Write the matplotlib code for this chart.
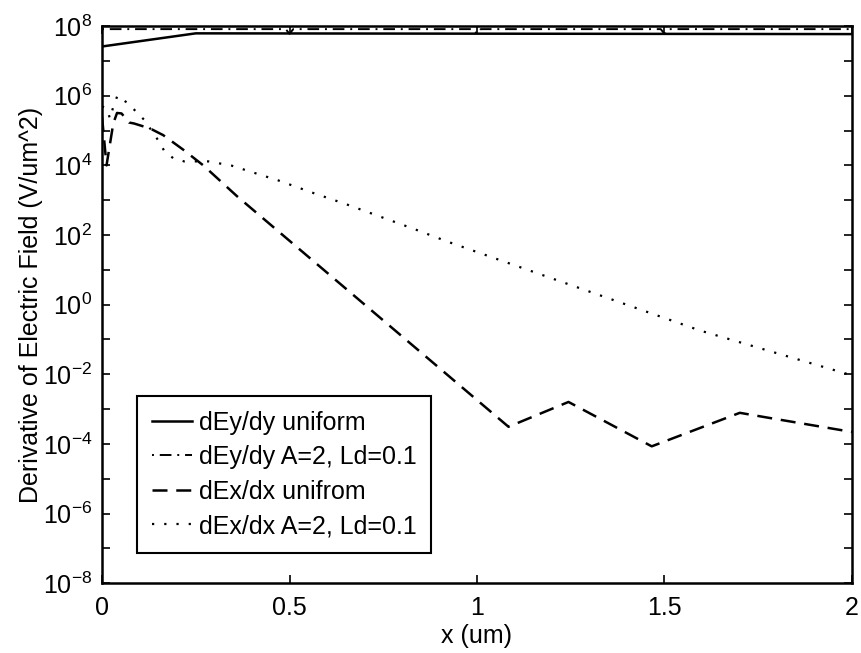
import numpy as np
import matplotlib
matplotlib.use("Agg")
import matplotlib.pyplot as plt
from matplotlib.ticker import FixedLocator, FuncFormatter, NullLocator

plt.rcParams['font.family'] = ['Liberation Sans', 'DejaVu Sans']
plt.rcParams['mathtext.fontset'] = 'custom'
plt.rcParams['mathtext.rm'] = 'Liberation Sans'
plt.rcParams['mathtext.it'] = 'Liberation Sans'

# values
x_ey_uni = [0, 0.25, 2.0]
y_ey_uni = [2.6e7, 6.2e7, 5.9e7]

x_ey_a2 = [0, 0.49, 0.5, 0.51, 0.99, 1.0, 1.01, 1.49, 1.5, 1.51, 2.0]
y_ey_a2 = [8.2e7, 8.2e7, 6.0e7, 8.2e7, 8.2e7, 6.0e7, 8.2e7, 8.2e7, 6.0e7, 8.2e7, 8.2e7]

x_ex_uni = [0, 0.012, 0.03, 0.04, 0.052, 0.072, 0.085, 0.128, 0.163, 0.217, 0.27,
            0.36, 1.084, 1.244, 1.466, 1.701, 1.77, 2.0]
y_ex_uni = [2.5e5, 1.0e4, 1.6e5, 3.2e5, 3.1e5, 1.7e5, 1.6e5, 1.15e5, 7.4e4, 2.8e4, 1.0e4,
            1.3e3, 3.1e-4, 1.6e-3, 8.5e-5, 7.8e-4, 5.8e-4, 2.2e-4]

x_ex_a2 = [0, 0.014, 0.021, 0.030, 0.041, 0.067, 0.091, 0.113, 0.15, 0.166, 0.19, 0.219,
           0.284, 0.346, 0.408, 0.47, 0.564, 0.652, 0.744, 0.835, 0.924, 1.595, 2.0]
y_ex_a2 = [5.0e5, 4.1e5, 2.2e5, 4.8e5, 1.0e6, 6.3e5, 3.5e5, 2.0e5, 5.2e4, 2.6e4, 1.6e4, 1.3e4,
           1.3e4, 9.8e3, 6.0e3, 3.7e3, 1.6e3, 760, 330, 145, 63, 0.18, 9.3e-3]

labels = ["dEy/dy uniform", "dEy/dy A=2, Ld=0.1", "dEx/dx unifrom", "dEx/dx A=2, Ld=0.1"]
x_ticks = [0, 0.5, 1, 1.5, 2]
y_exps = list(range(-8, 9))

fig = plt.figure(figsize=(8.61, 6.53), dpi=100)
ax = fig.add_axes([0.1185, 0.107, 0.871, 0.853])

ax.semilogy(x_ey_uni, y_ey_uni, color='k', lw=1.8, ls='-', label=labels[0])
ax.semilogy(x_ey_a2, y_ey_a2, color='k', lw=1.4, ls=(0, (1, 3, 6, 3)), label=labels[1])
ax.semilogy(x_ex_uni, y_ex_uni, color='k', lw=1.8, ls=(0, (6, 3.5)), label=labels[2])
ax.semilogy(x_ex_a2, y_ex_a2, color='k', lw=1.6, ls=(0, (1, 4.5)), label=labels[3])

ax.set_xlim(0, 2)
ax.set_ylim(1e-8, 1e8)
ax.set_xticks(x_ticks)
ax.set_xticklabels(['0', '0.5', '1', '1.5', '2'])
ax.yaxis.set_major_locator(FixedLocator([10.0 ** e for e in y_exps]))
ax.yaxis.set_minor_locator(NullLocator())
ax.yaxis.set_major_formatter(FuncFormatter(
    lambda v, p: '$10^{%d}$' % round(np.log10(v)) if round(np.log10(v)) % 2 == 0 else ''))

ax.tick_params(direction='in', top=True, right=True, length=6, width=1.2,
               labelsize=18, pad=7)
ax.tick_params(axis='x', pad=9)
for s in ax.spines.values():
    s.set_linewidth(1.8)

ax.set_xlabel('x (um)', fontsize=18, labelpad=3)
ax.set_ylabel('Derivative of Electric Field (V/um^2)', fontsize=18, labelpad=0)

leg = ax.legend(loc='lower left', bbox_to_anchor=(0.047, 0.054), borderaxespad=0,
                fontsize=18, handlelength=1.6, handletextpad=0.25, labelspacing=0.42,
                fancybox=False, framealpha=1, edgecolor='k', borderpad=0.6)
leg.get_frame().set_linewidth(1.5)

plt.savefig('out.png', dpi=100)
